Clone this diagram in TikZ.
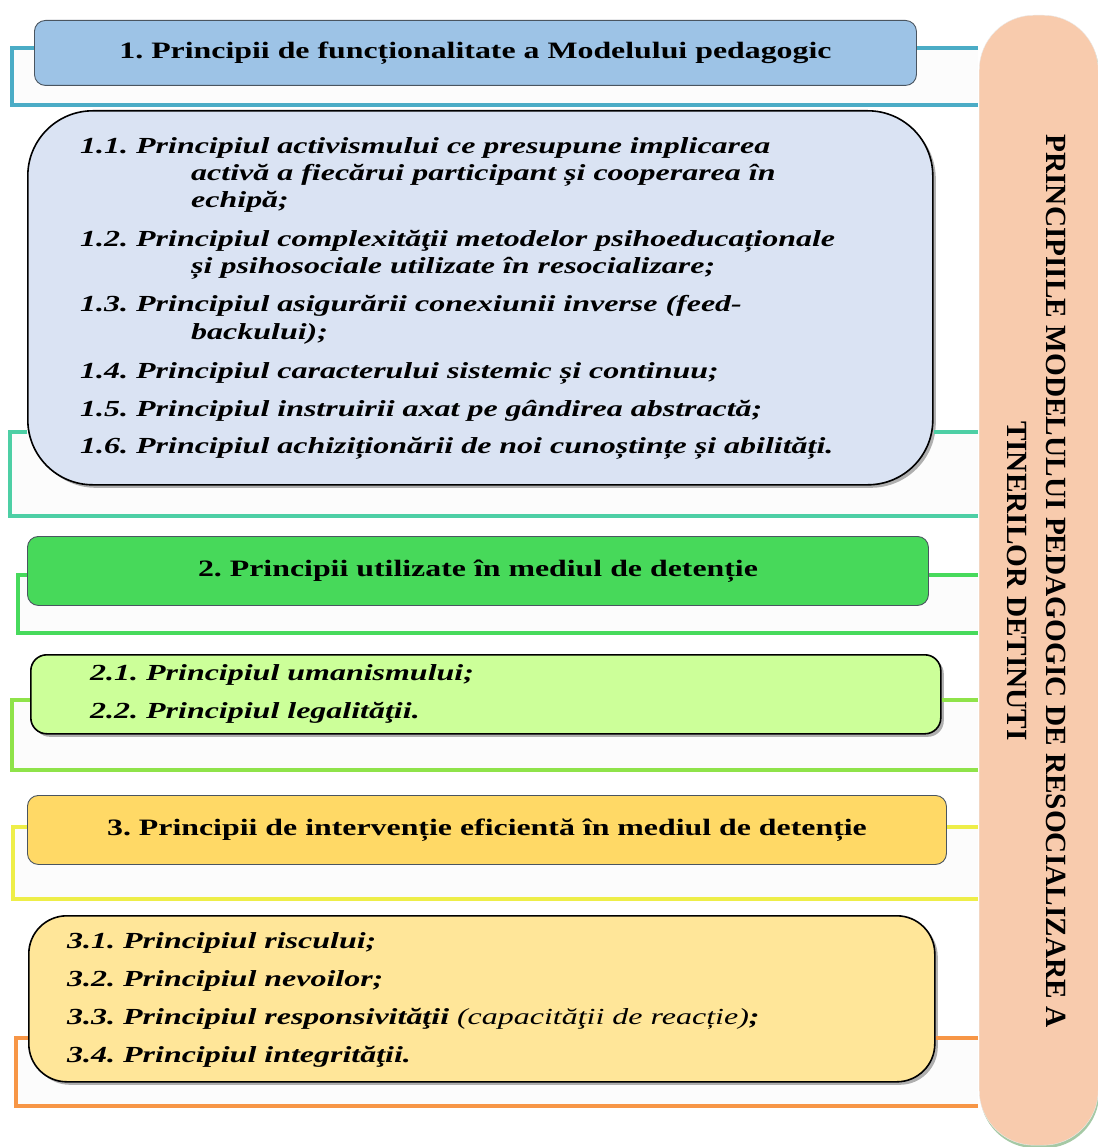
\documentclass[tikz,border=0pt]{standalone}
\usepackage{fontspec}
\setmainfont{Liberation Serif}
\newfontfamily\itemfont{Liberation Serif}[FakeStretch=1.39]
\newfontfamily\headfont{Liberation Serif}[FakeStretch=1.355]
\usetikzlibrary{shadows}
\definecolor{hAc}{HTML}{9DC3E6}
\definecolor{hBc}{HTML}{47D95A}
\definecolor{hCc}{HTML}{FFD966}
\definecolor{lAc}{HTML}{DAE3F3}
\definecolor{lBc}{HTML}{CCFF99}
\definecolor{lCc}{HTML}{FFE699}
\definecolor{panelc}{HTML}{F8CBAD}
\definecolor{kA}{HTML}{4BACC6}
\definecolor{kB}{HTML}{4DCFA5}
\definecolor{kC}{HTML}{47DA5C}
\definecolor{kD}{HTML}{8FE34A}
\definecolor{kE}{HTML}{EEEE48}
\definecolor{kF}{HTML}{F79646}
\definecolor{bandfill}{HTML}{FCFCFC}
\definecolor{hdrline}{HTML}{4A5560}
\begin{document}
\frenchspacing
\begin{tikzpicture}[x=1pt,y=-1pt,
  hdr/.style={draw=hdrline, line width=0.9pt, rounded corners=11pt, anchor=north west, inner sep=0pt,
    font=\headfont\fontsize{23.5}{28}\selectfont\bfseries, align=center},
  lst/.style={draw=black, line width=1.6pt, anchor=north west, inner sep=0pt,
    drop shadow={shadow xshift=3pt, shadow yshift=-3pt, opacity=0.3, fill=black}},
  brk/.style={line width=4pt, line join=miter},
  band/.style={fill=bandfill, draw=none},
  ltxt/.style={font=\itemfont\fontsize{23}{27}\selectfont\bfseries\itshape, anchor=base west, inner sep=0pt},
]
\useasboundingbox (0,0) rectangle (1097,1147);
\fill[white] (0,0) rectangle (1097,1147);

% named coordinates for brackets
\coordinate (pw) at (978,0);
\coordinate (tA) at (12,48);   \coordinate (uA) at (12,105);
\coordinate (tB) at (10,432);  \coordinate (uB) at (10,516);
\coordinate (tC) at (18,575);  \coordinate (uC) at (18,633);
\coordinate (tD) at (12,700);  \coordinate (uD) at (12,770);
\coordinate (tE) at (13,827);  \coordinate (uE) at (13,899);
\coordinate (tF) at (16,1038); \coordinate (uF) at (16,1106);

% band backgrounds
\fill[band] (tA) rectangle (pw |- uA);
\fill[band] (tB) rectangle (pw |- uB);
\fill[band] (tC) rectangle (pw |- uC);
\fill[band] (tD) rectangle (pw |- uD);
\fill[band] (tE) rectangle (pw |- uE);
\fill[band] (tF) rectangle (pw |- uF);

% header and list boxes
\node[hdr, fill=hAc, minimum width=882pt, minimum height=65pt] (h1) at (34,20)
  {1. Principii de funcționalitate a Modelului pedagogic};
\node[lst, fill=lAc, rounded corners=65pt, minimum width=905pt, minimum height=374pt] (b1) at (27,110) {};
\node[hdr, fill=hBc, minimum width=901pt, minimum height=69pt] (h2) at (27,536)
  {2. Principii utilizate în mediul de detenție};
\node[lst, fill=lBc, rounded corners=16pt, minimum width=910pt, minimum height=79pt] (b2) at (30,654) {};
\node[hdr, fill=hCc, minimum width=919pt, minimum height=69pt] (h3) at (27,795)
  {3. Principii de intervenție eficientă în mediul de detenție};
\node[lst, fill=lCc, rounded corners=38pt, minimum width=906pt, minimum height=166pt] (b3) at (28,915) {};

% brackets
\draw[brk, kA] (h1.west |- tA) -- (tA) -- (uA) -- (pw |- uA);
\draw[brk, kA] (h1.east |- tA) -- (pw |- tA);
\draw[brk, kB] (b1.west |- tB) -- (tB) -- (uB) -- (pw |- uB);
\draw[brk, kB] (b1.east |- tB) -- (pw |- tB);
\draw[brk, kC] (h2.west |- tC) -- (tC) -- (uC) -- (pw |- uC);
\draw[brk, kC] (h2.east |- tC) -- (pw |- tC);
\draw[brk, kD] (b2.west |- tD) -- (tD) -- (uD) -- (pw |- uD);
\draw[brk, kD] (b2.east |- tD) -- (pw |- tD);
\draw[brk, kE] (h3.west |- tE) -- (tE) -- (uE) -- (pw |- uE);
\draw[brk, kE] (h3.east |- tE) -- (pw |- tE);
\draw[brk, kF] (b3.west |- tF) -- (tF) -- (uF) -- (pw |- uF);
\draw[brk, kF] (b3.east |- tF) -- (pw |- tF);

% list texts
\node[ltxt] (l11a) at (80,154) {1.1. Principiul activismului ce presupune implicarea};
\node[ltxt] (l11b) at (191,181) {activă a fiecărui participant și cooperarea în};
\node[ltxt] (l11c) at (191,208) {echipă;};
\node[ltxt] (l12a) at (80,247) {1.2. Principiul complexităţii metodelor psihoeducaționale};
\node[ltxt] (l12b) at (191,274) {și psihosociale utilizate în resocializare;};
\node[ltxt] (l13a) at (80,312) {1.3. Principiul asigurării conexiunii inverse (feed-};
\node[ltxt] (l13b) at (191,339) {backului);};
\node[ltxt] (l14) at (80,378) {1.4. Principiul caracterului sistemic și continuu;};
\node[ltxt] (l15) at (80,416) {1.5. Principiul instruirii axat pe gândirea abstractă;};
\node[ltxt] (l16) at (80,453) {1.6. Principiul achiziționării de noi cunoștințe și abilități.};
\node[ltxt] (l21) at (90,680) {2.1. Principiul umanismului;};
\node[ltxt] (l22) at (90,718) {2.2. Principiul legalităţii.};
\node[ltxt] (l31) at (67,948) {3.1. Principiul riscului;};
\node[ltxt] (l32) at (67,986) {3.2. Principiul nevoilor;};
\node[ltxt] (l33) at (67,1024) {3.3. Principiul responsivităţii {\mdseries(capacităţii de reacție)};};
\node[ltxt] (l34) at (67,1062) {3.4. Principiul integrităţii.};

% right panel
\node[draw=black!8, fill=panelc, rounded corners=55pt, anchor=north west, inner sep=0pt,
  minimum width=119pt, minimum height=1130pt,
  drop shadow={shadow xshift=1pt, shadow yshift=-3pt, opacity=0.5, fill=black!30!green!40!gray}] (panel) at (979,15) {};
\node[rotate=-90, font=\fontsize{29.3}{39}\selectfont\bfseries, align=center, inner sep=0pt] (ptxt) at (1037,581)
  {PRINCIPIILE MODELULUI PEDAGOGIC DE RESOCIALIZARE A\\TINERILOR DETINUTI};
\end{tikzpicture}
\end{document}
